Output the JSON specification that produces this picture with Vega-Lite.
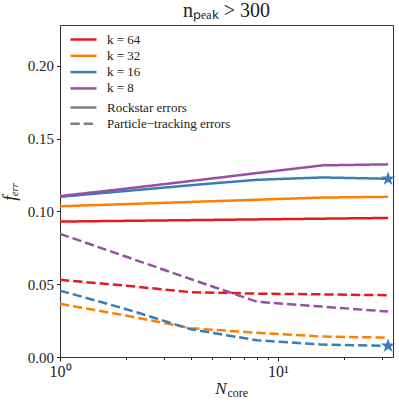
{
  "$schema": "https://vega.github.io/schema/vega-lite/v6.json",
  "autosize": {"type": "none"},
  "width": 333,
  "height": 332,
  "padding": {"left": 60, "top": 25, "right": 6, "bottom": 46},
  "background": "white",
  "config": {
    "font": "Liberation Serif",
    "view": {"stroke": "#333", "strokeWidth": 1},
    "axis": {"grid": false, "domain": false, "tickColor": "#222", "labelColor": "#222", "titleColor": "#222", "labelFont": "Liberation Serif", "titleFont": "Liberation Serif", "titleFontWeight": "normal"},
    "legend": {"orient": "none", "padding": 0, "title": null, "labelFont": "Liberation Serif", "labelFontSize": 13, "labelColor": "#222", "symbolType": "M-2,0H2", "symbolSize": 169, "symbolStrokeWidth": 2.5, "rowPadding": 1.3, "labelOffset": 15.5}
  },
  "title": {"text": "nₚₑₐₖ > 300", "fontSize": 20, "font": "Liberation Serif", "fontWeight": "normal", "color": "#222", "offset": 4},
  "data": {"values": [
    {"k": "k = 64", "type": "Rockstar errors", "N": 1, "f": 0.093},
    {"k": "k = 64", "type": "Rockstar errors", "N": 2, "f": 0.0935},
    {"k": "k = 64", "type": "Rockstar errors", "N": 4, "f": 0.094},
    {"k": "k = 64", "type": "Rockstar errors", "N": 8, "f": 0.0945},
    {"k": "k = 64", "type": "Rockstar errors", "N": 16, "f": 0.095},
    {"k": "k = 64", "type": "Rockstar errors", "N": 32, "f": 0.0955},
    {"k": "k = 32", "type": "Rockstar errors", "N": 1, "f": 0.1035},
    {"k": "k = 32", "type": "Rockstar errors", "N": 2, "f": 0.105},
    {"k": "k = 32", "type": "Rockstar errors", "N": 4, "f": 0.1065},
    {"k": "k = 32", "type": "Rockstar errors", "N": 8, "f": 0.108},
    {"k": "k = 32", "type": "Rockstar errors", "N": 16, "f": 0.1095},
    {"k": "k = 32", "type": "Rockstar errors", "N": 32, "f": 0.110},
    {"k": "k = 16", "type": "Rockstar errors", "N": 1, "f": 0.110},
    {"k": "k = 16", "type": "Rockstar errors", "N": 2, "f": 0.114},
    {"k": "k = 16", "type": "Rockstar errors", "N": 4, "f": 0.118},
    {"k": "k = 16", "type": "Rockstar errors", "N": 8, "f": 0.1217},
    {"k": "k = 16", "type": "Rockstar errors", "N": 16, "f": 0.1233},
    {"k": "k = 16", "type": "Rockstar errors", "N": 32, "f": 0.1224},
    {"k": "k = 8", "type": "Rockstar errors", "N": 1, "f": 0.1105},
    {"k": "k = 8", "type": "Rockstar errors", "N": 2, "f": 0.1156},
    {"k": "k = 8", "type": "Rockstar errors", "N": 4, "f": 0.1209},
    {"k": "k = 8", "type": "Rockstar errors", "N": 8, "f": 0.1263},
    {"k": "k = 8", "type": "Rockstar errors", "N": 16, "f": 0.1316},
    {"k": "k = 8", "type": "Rockstar errors", "N": 32, "f": 0.1323},
    {"k": "k = 64", "type": "Particle−tracking errors", "N": 1, "f": 0.053},
    {"k": "k = 64", "type": "Particle−tracking errors", "N": 2, "f": 0.049},
    {"k": "k = 64", "type": "Particle−tracking errors", "N": 4, "f": 0.0445},
    {"k": "k = 64", "type": "Particle−tracking errors", "N": 8, "f": 0.0435},
    {"k": "k = 64", "type": "Particle−tracking errors", "N": 16, "f": 0.043},
    {"k": "k = 64", "type": "Particle−tracking errors", "N": 32, "f": 0.0424},
    {"k": "k = 32", "type": "Particle−tracking errors", "N": 1, "f": 0.0365},
    {"k": "k = 32", "type": "Particle−tracking errors", "N": 2, "f": 0.0285},
    {"k": "k = 32", "type": "Particle−tracking errors", "N": 4, "f": 0.0197},
    {"k": "k = 32", "type": "Particle−tracking errors", "N": 8, "f": 0.0167},
    {"k": "k = 32", "type": "Particle−tracking errors", "N": 16, "f": 0.014},
    {"k": "k = 32", "type": "Particle−tracking errors", "N": 32, "f": 0.0133},
    {"k": "k = 16", "type": "Particle−tracking errors", "N": 1, "f": 0.0456},
    {"k": "k = 16", "type": "Particle−tracking errors", "N": 2, "f": 0.033},
    {"k": "k = 16", "type": "Particle−tracking errors", "N": 4, "f": 0.019},
    {"k": "k = 16", "type": "Particle−tracking errors", "N": 8, "f": 0.0115},
    {"k": "k = 16", "type": "Particle−tracking errors", "N": 16, "f": 0.0085},
    {"k": "k = 16", "type": "Particle−tracking errors", "N": 32, "f": 0.0076},
    {"k": "k = 8", "type": "Particle−tracking errors", "N": 1, "f": 0.0846},
    {"k": "k = 8", "type": "Particle−tracking errors", "N": 2, "f": 0.069},
    {"k": "k = 8", "type": "Particle−tracking errors", "N": 4, "f": 0.0534},
    {"k": "k = 8", "type": "Particle−tracking errors", "N": 8, "f": 0.038},
    {"k": "k = 8", "type": "Particle−tracking errors", "N": 16, "f": 0.0346},
    {"k": "k = 8", "type": "Particle−tracking errors", "N": 32, "f": 0.0312}
  ]},
  "resolve": {"axis": {"x": "independent"}},
  "layer": [
    {
      "mark": {"type": "line", "strokeWidth": 2.5, "clip": true},
      "encoding": {
        "x": {"field": "N", "type": "quantitative",
          "scale": {"type": "log", "domain": [1, 33.7], "nice": false},
          "axis": {"title": "N", "titleFontSize": 17, "titleFontStyle": "italic", "titleAlign": "right", "titleBaseline": "alphabetic", "titleX": 166, "titleY": 36, "titleAnchor": null,
            "values": [1, 2, 3, 4, 5, 6, 7, 8, 9, 10, 20, 30],
            "labelExpr": "datum.value == 1 ? '10⁰' : (datum.value == 10 ? '10¹' : '')",
            "labelFont": "Liberation Serif",
            "labelFlush": false, "labelOverlap": false, "labelFontSize": 16, "labelPadding": 2,
            "tickSize": {"condition": {"test": "datum.value == 1 || datum.value == 10", "value": 4}, "value": 2.5}}},
        "y": {"field": "f", "type": "quantitative",
          "scale": {"domain": [0, 0.228], "nice": false, "zero": false},
          "axis": {"title": "fₑᵣᵣ", "titleFontSize": 18, "titleFontStyle": "italic", "titlePadding": 8, "values": [0, 0.05, 0.1, 0.15, 0.2], "format": ".2f", "labelFont": "Liberation Serif", "labelFontSize": 15, "tickSize": 3.5, "labelPadding": 3}},
        "color": {"field": "k", "type": "nominal",
          "scale": {"domain": ["k = 64", "k = 32", "k = 16", "k = 8"], "range": ["#e41a1c", "#ff7f00", "#377eb8", "#984ea3"]},
          "legend": {"orient": "none", "legendX": 15.5, "legendY": 6.5, "labelFont": "Liberation Serif", "symbolStrokeWidth": 2.5}},
        "strokeDash": {"field": "type", "type": "nominal",
          "scale": {"domain": ["Rockstar errors", "Particle−tracking errors"], "range": [[1, 0], [9.25, 4]]},
          "legend": {"orient": "none", "legendX": 15.5, "legendY": 74.5, "labelFont": "Liberation Serif", "symbolStrokeColor": "#7f7f7f", "symbolStrokeWidth": 2.5}},
        "order": {"field": "N", "type": "quantitative"}
      }
    },
    {
      "transform": [{"filter": "datum.k == 'k = 16' && datum.N == 32"}],
      "mark": {"type": "point", "shape": "M0,-1L0.2245,-0.309L0.951,-0.309L0.363,0.118L0.588,0.809L0,0.382L-0.588,0.809L-0.363,0.118L-0.951,-0.309L-0.2245,-0.309Z", "filled": true, "opacity": 1, "size": 230, "color": "#377eb8", "clip": false},
      "encoding": {
        "x": {"field": "N", "type": "quantitative",
          "scale": {"type": "log", "domain": [1, 33.7], "nice": false},
          "axis": {"orient": "bottom", "title": "core", "titleFontSize": 12, "titleAlign": "left", "titleBaseline": "alphabetic", "titleX": 167, "titleY": 39, "titleAnchor": null, "labels": false, "ticks": false, "domain": false}},
        "y": {"field": "f", "type": "quantitative"}
      }
    }
  ]
}
